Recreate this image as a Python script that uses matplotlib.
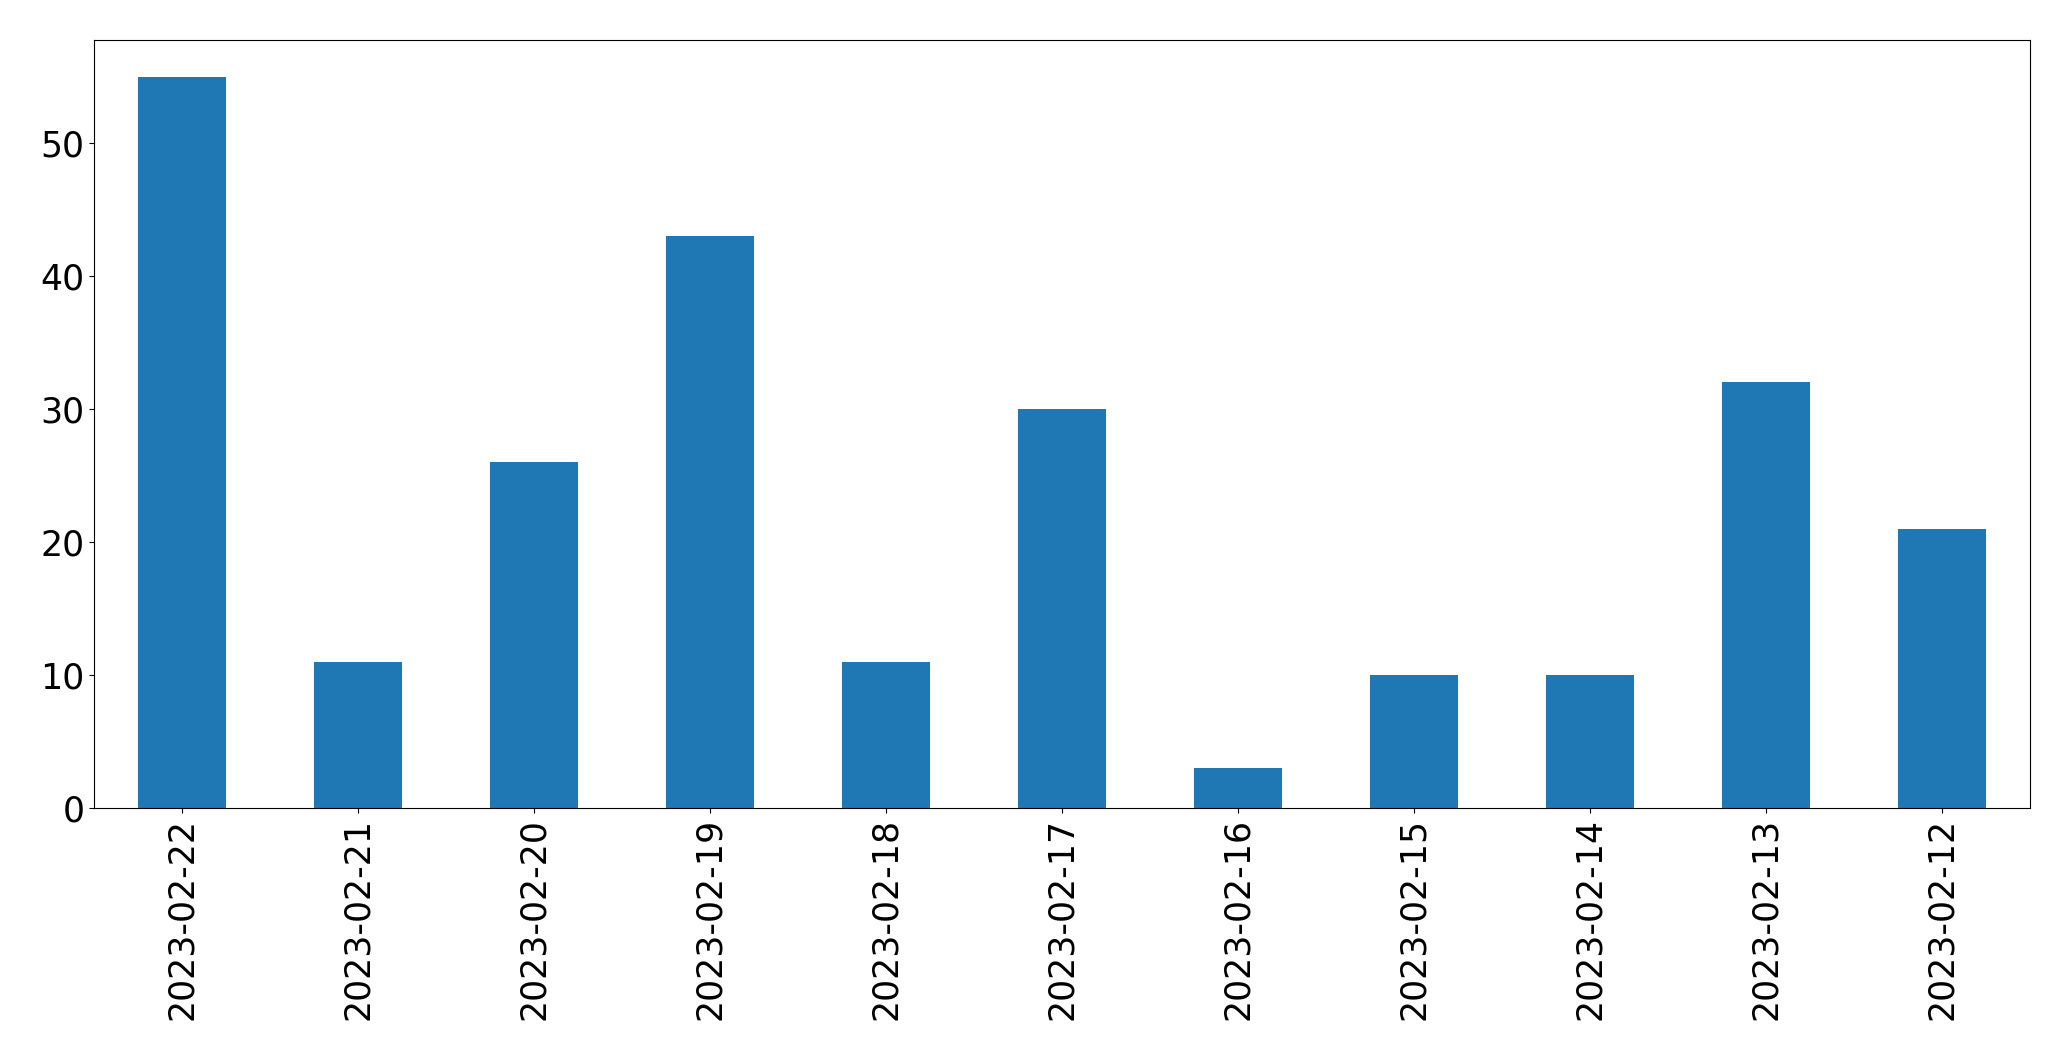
import matplotlib
matplotlib.use('Agg')
import matplotlib.pyplot as plt
import pandas as pd

dates = ['2023-02-22', '2023-02-21', '2023-02-20', '2023-02-19', '2023-02-18',
         '2023-02-17', '2023-02-16', '2023-02-15', '2023-02-14', '2023-02-13',
         '2023-02-12']
counts = [55, 11, 26, 43, 11, 30, 3, 10, 10, 32, 21]

s = pd.Series(counts, index=dates)

fig, ax = plt.subplots(figsize=(20.71, 10.61), dpi=100)
s.plot(kind='bar', ax=ax, color='#1f77b4', fontsize=25)
ax.tick_params(labelsize=25)
fig.subplots_adjust(left=94/2071, right=2030/2071, top=1-40/1061, bottom=1-808/1061)
fig.savefig('out.png', dpi=100)
